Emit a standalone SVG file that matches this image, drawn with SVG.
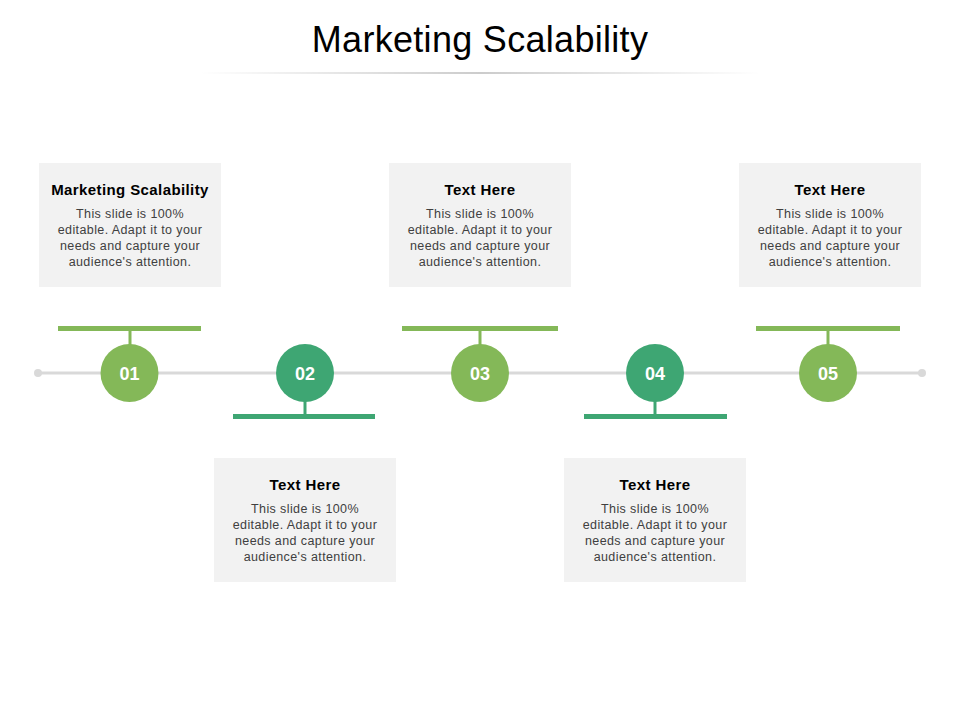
<svg xmlns="http://www.w3.org/2000/svg" width="960" height="720" viewBox="0 0 960 720">
<defs>
<linearGradient id="ul" x1="0" y1="0" x2="1" y2="0">
<stop offset="0" stop-color="#ffffff"/>
<stop offset="0.5" stop-color="#999999"/>
<stop offset="1" stop-color="#ffffff"/>
</linearGradient>
<style>
.box{fill:#f2f2f2}
.h{font-family:"Liberation Sans",Arial,sans-serif;font-size:15px;font-weight:bold;fill:#000;text-anchor:middle;letter-spacing:0.4px}
.b{font-family:"Liberation Sans",Arial,sans-serif;font-size:12.5px;fill:#404040;text-anchor:middle;letter-spacing:0.4px}
.num{font-family:"Liberation Sans",Arial,sans-serif;font-size:18px;font-weight:bold;fill:#fff;text-anchor:middle}
.lg{fill:#84b858}
.dg{fill:#3ea673}
.lgs{stroke:#84b858}
.dgs{stroke:#3ea673}
</style>
</defs>
<rect width="960" height="720" fill="#fff"/>
<text x="480" y="52" style="font-family:'Liberation Sans',Arial,sans-serif;font-size:36px;fill:#000;text-anchor:middle;letter-spacing:0.3px">Marketing Scalability</text>
<rect x="200" y="72.5" width="560" height="1" fill="url(#ul)"/>
<g id="connectors">
<line x1="38" y1="373" x2="922" y2="373" stroke="#d9d9d9" stroke-width="3"/>
<circle cx="38" cy="373" r="4" fill="#d9d9d9"/>
<circle cx="922" cy="373" r="4" fill="#d9d9d9"/>
<line x1="58" y1="328.5" x2="201" y2="328.5" class="lgs" stroke-width="5"/>
<line x1="130" y1="330" x2="130" y2="346" class="lgs" stroke-width="3"/>
<line x1="402" y1="328.5" x2="558" y2="328.5" class="lgs" stroke-width="5"/>
<line x1="480" y1="330" x2="480" y2="346" class="lgs" stroke-width="3"/>
<line x1="756" y1="328.5" x2="900" y2="328.5" class="lgs" stroke-width="5"/>
<line x1="828" y1="330" x2="828" y2="346" class="lgs" stroke-width="3"/>
<line x1="233" y1="416.5" x2="375" y2="416.5" class="dgs" stroke-width="5"/>
<line x1="305" y1="400" x2="305" y2="416" class="dgs" stroke-width="3"/>
<line x1="584" y1="416.5" x2="727" y2="416.5" class="dgs" stroke-width="5"/>
<line x1="655" y1="400" x2="655" y2="416" class="dgs" stroke-width="3"/>
</g>
<g id="node1">
<rect class="box" x="39" y="163" width="182" height="124"/>
<text class="h" x="130" y="195">Marketing Scalability</text>
<text class="b" x="130" y="218">This slide is 100%</text>
<text class="b" x="130" y="234">editable. Adapt it to your</text>
<text class="b" x="130" y="250">needs and capture your</text>
<text class="b" x="130" y="266">audience's attention.</text>
<circle class="lg" cx="129.5" cy="373" r="29"/>
<text class="num" x="129.5" y="379.5">01</text>
</g>
<g id="node2">
<rect class="box" x="214" y="458" width="182" height="124"/>
<text class="h" x="305" y="490">Text Here</text>
<text class="b" x="305" y="513">This slide is 100%</text>
<text class="b" x="305" y="529">editable. Adapt it to your</text>
<text class="b" x="305" y="545">needs and capture your</text>
<text class="b" x="305" y="561">audience's attention.</text>
<circle class="dg" cx="305" cy="373" r="29"/>
<text class="num" x="305" y="379.5">02</text>
</g>
<g id="node3">
<rect class="box" x="389" y="163" width="182" height="124"/>
<text class="h" x="480" y="195">Text Here</text>
<text class="b" x="480" y="218">This slide is 100%</text>
<text class="b" x="480" y="234">editable. Adapt it to your</text>
<text class="b" x="480" y="250">needs and capture your</text>
<text class="b" x="480" y="266">audience's attention.</text>
<circle class="lg" cx="480" cy="373" r="29"/>
<text class="num" x="480" y="379.5">03</text>
</g>
<g id="node4">
<rect class="box" x="564" y="458" width="182" height="124"/>
<text class="h" x="655" y="490">Text Here</text>
<text class="b" x="655" y="513">This slide is 100%</text>
<text class="b" x="655" y="529">editable. Adapt it to your</text>
<text class="b" x="655" y="545">needs and capture your</text>
<text class="b" x="655" y="561">audience's attention.</text>
<circle class="dg" cx="655" cy="373" r="29"/>
<text class="num" x="655" y="379.5">04</text>
</g>
<g id="node5">
<rect class="box" x="739" y="163" width="182" height="124"/>
<text class="h" x="830" y="195">Text Here</text>
<text class="b" x="830" y="218">This slide is 100%</text>
<text class="b" x="830" y="234">editable. Adapt it to your</text>
<text class="b" x="830" y="250">needs and capture your</text>
<text class="b" x="830" y="266">audience's attention.</text>
<circle class="lg" cx="828" cy="373" r="29"/>
<text class="num" x="828" y="379.5">05</text>
</g>
</svg>
